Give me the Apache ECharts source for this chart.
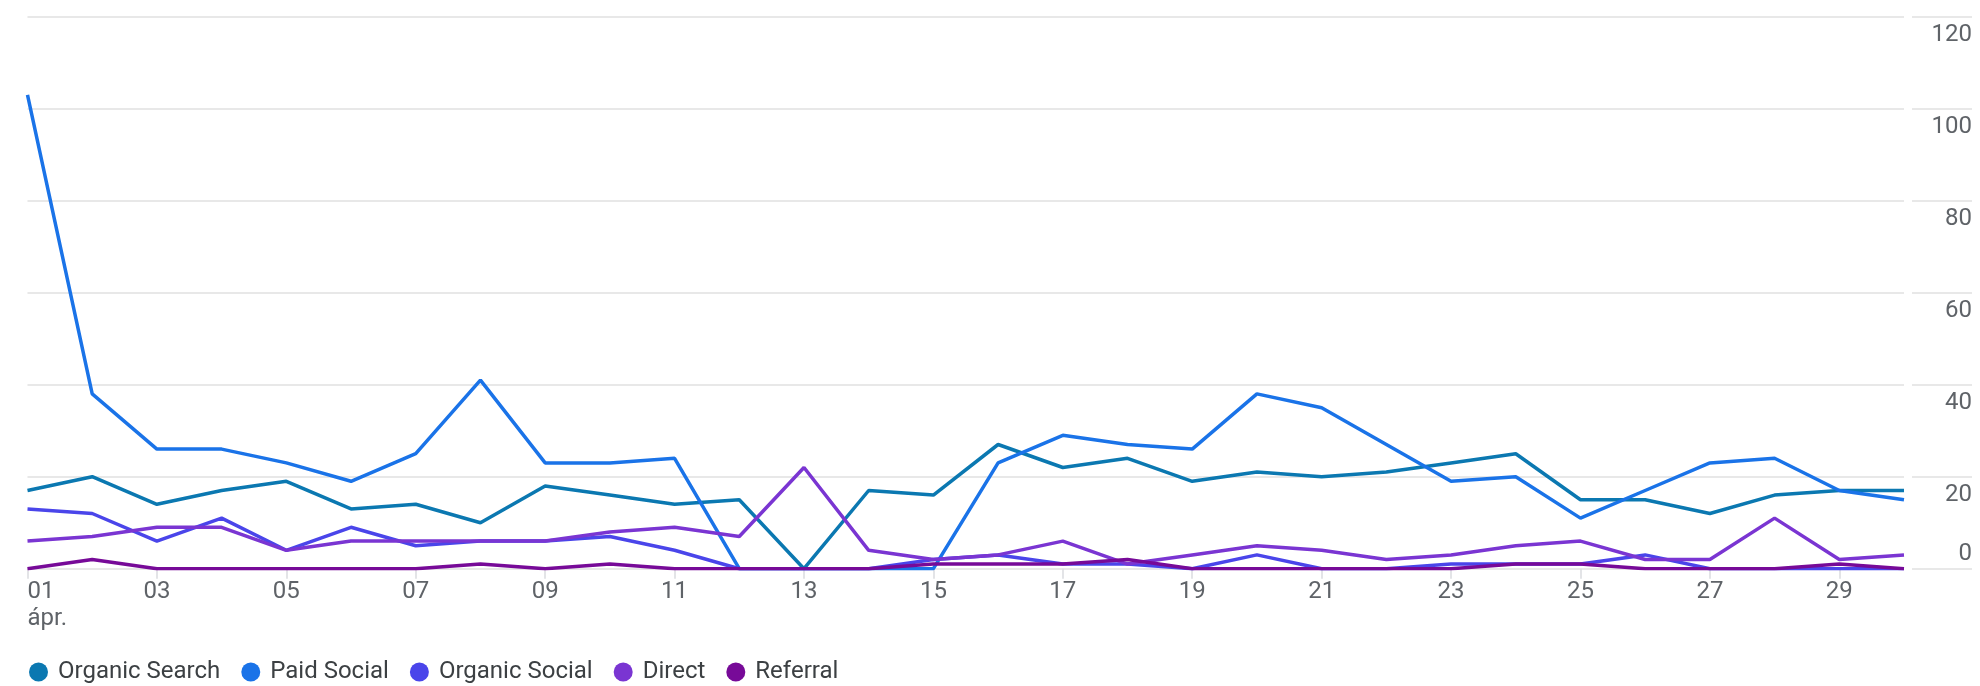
<!DOCTYPE html>
<html>
<head>
<meta charset="utf-8">
<script src="https://cdn.jsdelivr.net/npm/echarts@6/dist/echarts.min.js"></script>
<style>
html,body{margin:0;padding:0;background:#fff;}
#chart{width:1980px;height:686px;}
</style>
</head>
<body>
<div id="chart"></div>
<script>
const days = ['01','02','03','04','05','06','07','08','09','10','11','12','13','14','15','16','17','18','19','20','21','22','23','24','25','26','27','28','29','30'];
const monthLabel = 'ápr.';
const seriesNames = ['Organic Search','Paid Social','Organic Social','Direct','Referral'];
const organicSearch = [17,20,14,17,19,13,14,10,18,16,14,15,0,17,16,27,22,24,19,21,20,21,23,25,15,15,12,16,17,17];
const paidSocial    = [103,38,26,26,23,19,25,41,23,23,24,0,0,0,0,23,29,27,26,38,35,27,19,20,11,17,23,24,17,15];
const organicSocial = [13,12,6,11,4,9,5,6,6,7,4,0,0,0,2,3,1,1,0,3,0,0,1,1,1,3,0,0,0,0];
const direct        = [6,7,9,9,4,6,6,6,6,8,9,7,22,4,2,3,6,1,3,5,4,2,3,5,6,2,2,11,2,3];
const referral      = [0,2,0,0,0,0,0,1,0,1,0,0,0,0,1,1,1,2,0,0,0,0,0,1,1,0,0,0,1,0];
const yTicks = [0,20,40,60,80,100,120];

const colors = ['#0b78b1','#1a73e8','#4a45ea','#7a35d2','#770a98'];
const values = [organicSearch, paidSocial, organicSocial, direct, referral];

const chart = echarts.init(document.getElementById('chart'), null, {renderer:'canvas'});
const FONT = 'Roboto';
const FS = 24;
const gridTop = 16.7, gridBottom = 686 - 568.7;

chart.setOption({
  animation:false,
  color: colors,
  textStyle:{fontFamily:FONT},
  legend:{
    left: 24, top: 655, icon:'circle', itemWidth:19, itemHeight:19, itemGap:21,
    textStyle:{fontFamily:FONT, fontSize:FS, color:'#3c4043', padding:[0,0,0,5]},
    data: seriesNames
  },
  grid:[
    {left:27.5, right:1980-1904, top:gridTop, bottom:gridBottom, containLabel:false},
    {left:1912, right:1980-1972, top:gridTop, bottom:gridBottom, containLabel:false}
  ],
  xAxis:[
    {type:'category', gridIndex:0, data:days, boundaryGap:false,
     axisLine:{show:false},
     axisTick:{show:true, interval:1, length:10, lineStyle:{color:'#dadce0', width:1.5}},
     axisLabel:{interval:1, fontFamily:FONT, fontSize:FS, lineHeight:27, color:'#5f6368', margin:10,
       alignMinLabel:'left',
       formatter:(v,i)=> i===0 ? v + '\n' + monthLabel : v}
    },
    {type:'value', gridIndex:1, min:0, max:1, show:false}
  ],
  yAxis:[
    {type:'value', gridIndex:0, position:'right', min:yTicks[0], max:yTicks[yTicks.length-1], interval:20,
     axisLine:{show:false}, axisTick:{show:false},
     splitLine:{lineStyle:{color:'#e8e8e8', width:2}},
     axisLabel:{align:'right', margin:68, fontFamily:FONT, fontSize:FS, color:'#5f6368',
       formatter:(v)=> v===0 ? '{b|0}' : '{t|'+v+'}',
       rich:{
         t:{fontFamily:FONT, fontSize:FS, color:'#5f6368', padding:[36,0,0,0]},
         b:{fontFamily:FONT, fontSize:FS, color:'#5f6368', padding:[0,0,30,0]}
       }}
    },
    {type:'value', gridIndex:1, min:0, max:120, interval:20,
     axisLine:{show:false}, axisTick:{show:false}, axisLabel:{show:false},
     splitLine:{lineStyle:{color:'#e8e8e8', width:2}}}
  ],
  series: seriesNames.map((n,i)=>({
    name:n, type:'line', xAxisIndex:0, yAxisIndex:0, data:values[i],
    showSymbol:false, symbol:'circle', lineStyle:{width:3.5, color:colors[i]},
    itemStyle:{color:colors[i]}, z: 2+i
  }))
});
</script>
</body>
</html>
